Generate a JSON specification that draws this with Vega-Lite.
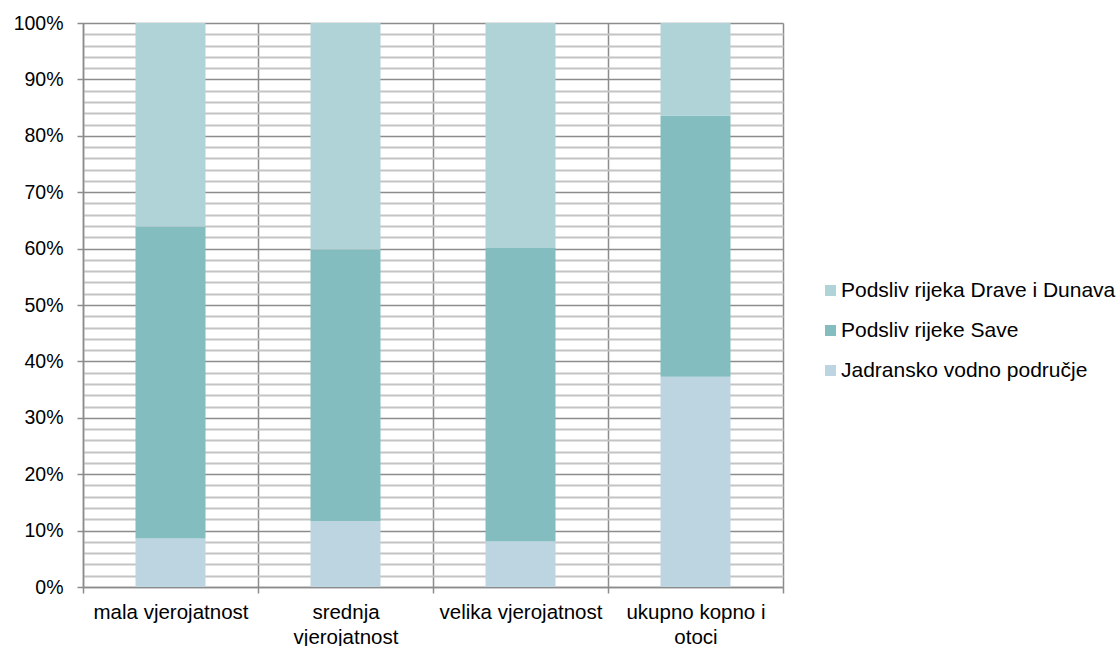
{
  "$schema": "https://vega.github.io/schema/vega-lite/v6.json",
  "width": 700,
  "height": 564,
  "autosize": {"type": "none"},
  "padding": {"left": 83, "top": 23, "right": 335, "bottom": 59},
  "background": "white",
  "config": {
    "view": {"stroke": null},
    "font": "Liberation Sans"
  },
  "data": {
    "values": [
      {"cat": "mala vjerojatnost", "series": "Jadransko vodno područje", "k": 1, "v": 0.086},
      {"cat": "mala vjerojatnost", "series": "Podsliv rijeke Save", "k": 2, "v": 0.553},
      {"cat": "mala vjerojatnost", "series": "Podsliv rijeka Drave i Dunava", "k": 3, "v": 0.361},
      {"cat": "srednja vjerojatnost", "series": "Jadransko vodno područje", "k": 1, "v": 0.117},
      {"cat": "srednja vjerojatnost", "series": "Podsliv rijeke Save", "k": 2, "v": 0.481},
      {"cat": "srednja vjerojatnost", "series": "Podsliv rijeka Drave i Dunava", "k": 3, "v": 0.402},
      {"cat": "velika vjerojatnost", "series": "Jadransko vodno područje", "k": 1, "v": 0.081},
      {"cat": "velika vjerojatnost", "series": "Podsliv rijeke Save", "k": 2, "v": 0.520},
      {"cat": "velika vjerojatnost", "series": "Podsliv rijeka Drave i Dunava", "k": 3, "v": 0.399},
      {"cat": "ukupno kopno i otoci", "series": "Jadransko vodno područje", "k": 1, "v": 0.373},
      {"cat": "ukupno kopno i otoci", "series": "Podsliv rijeke Save", "k": 2, "v": 0.463},
      {"cat": "ukupno kopno i otoci", "series": "Podsliv rijeka Drave i Dunava", "k": 3, "v": 0.164}
    ]
  },
  "mark": {"type": "bar", "width": {"band": 0.4}},
  "encoding": {
    "x": {
      "field": "cat",
      "type": "nominal",
      "sort": null,
      "scale": {"paddingInner": 0, "paddingOuter": 0},
      "axis": {
        "title": null,
        "labelAngle": 0,
        "tickBand": "extent",
        "grid": true,
        "gridColor": "#8C8C8C",
        "gridWidth": 1.5,
        "domainColor": "#8C8C8C",
        "domainWidth": 1.5,
        "tickColor": "#8C8C8C",
        "tickWidth": 1.5,
        "tickSize": 6,
        "labelFont": "Liberation Sans",
        "labelFontSize": 20.5,
        "labelColor": "black",
        "labelPadding": 9,
        "labelLineHeight": 25,
        "labelLimit": 300,
        "labelExpr": "datum.value == 'srednja vjerojatnost' ? ['srednja', 'vjerojatnost'] : datum.value == 'ukupno kopno i otoci' ? ['ukupno kopno i', 'otoci'] : datum.value"
      }
    },
    "y": {
      "field": "v",
      "type": "quantitative",
      "stack": "zero",
      "scale": {"domain": [0, 1], "nice": false},
      "axis": {
        "title": null,
        "values": [0,0.02,0.04,0.06,0.08,0.1,0.12,0.14,0.16,0.18,0.2,0.22,0.24,0.26,0.28,0.3,0.32,0.34,0.36,0.38,0.4,0.42,0.44,0.46,0.48,0.5,0.52,0.54,0.56,0.58,0.6,0.62,0.64,0.66,0.68,0.7,0.72,0.74,0.76,0.78,0.8,0.82,0.84,0.86,0.88,0.9,0.92,0.94,0.96,0.98,1],
        "format": ".0%",
        "labelExpr": "round(datum.value*100) % 10 == 0 ? datum.label : ''",
        "grid": true,
        "gridColor": {"condition": {"test": "round(datum.value*100) % 10 == 0", "value": "#8C8C8C"}, "value": "#C4C4C4"},
        "gridWidth": {"condition": {"test": "round(datum.value*100) % 10 == 0", "value": 1.5}, "value": 2},
        "tickOpacity": {"condition": {"test": "round(datum.value*100) % 10 == 0", "value": 1}, "value": 0},
        "tickColor": "#8C8C8C",
        "tickWidth": 1.5,
        "tickSize": 6,
        "domainColor": "#8C8C8C",
        "domainWidth": 1.5,
        "labelFont": "Liberation Sans",
        "labelFontSize": 19.5,
        "labelColor": "black",
        "labelPadding": 14
      }
    },
    "color": {
      "field": "series",
      "type": "nominal",
      "scale": {
        "domain": ["Podsliv rijeka Drave i Dunava", "Podsliv rijeke Save", "Jadransko vodno područje"],
        "range": ["#AFD3D6", "#83BDC0", "#BDD4E1"]
      },
      "legend": {
        "title": null,
        "orient": "none",
        "legendX": 737,
        "legendY": 257,
        "symbolType": "square",
        "symbolSize": 121,
        "symbolStrokeWidth": 0,
        "labelFont": "Liberation Sans",
        "labelFontSize": 21,
        "labelColor": "black",
        "labelOffset": 0,
        "labelLimit": 400,
        "rowPadding": 18,
        "padding": 0
      }
    },
    "order": {"field": "k", "type": "quantitative"}
  }
}
